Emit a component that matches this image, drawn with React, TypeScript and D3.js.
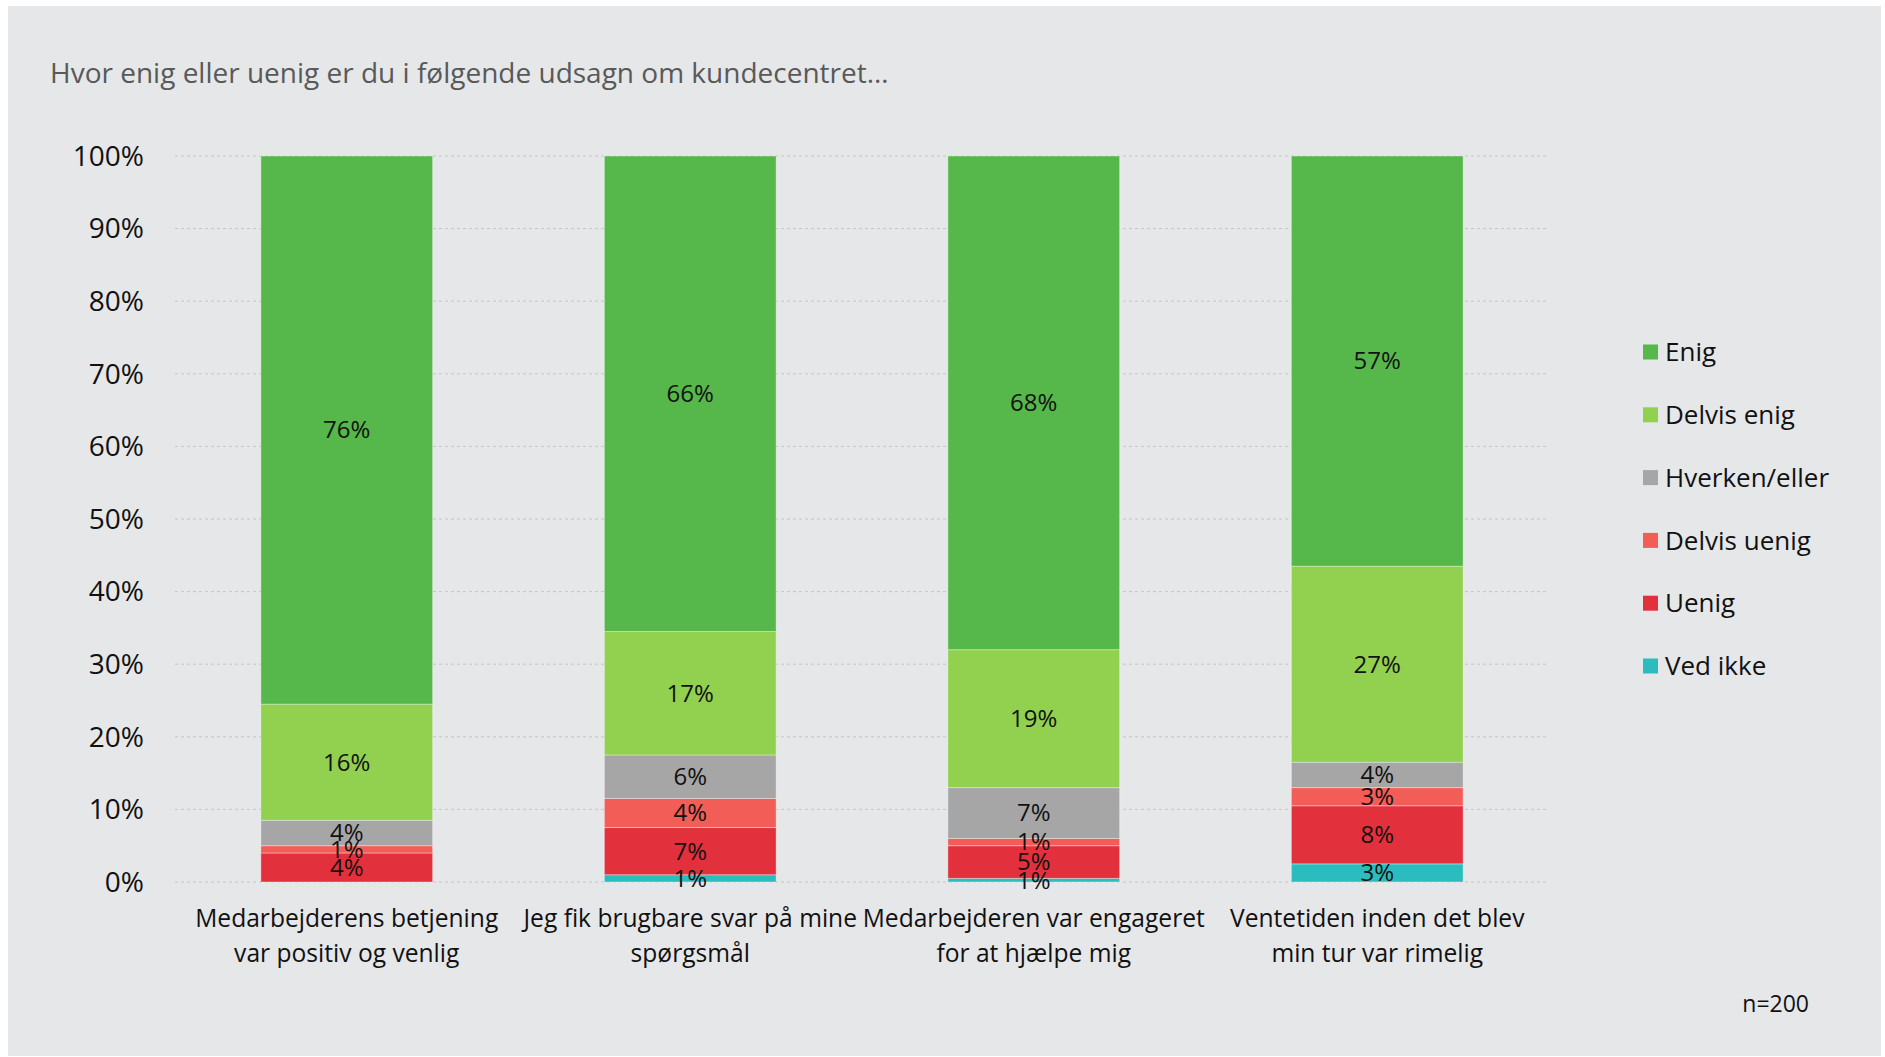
import React, { useEffect } from 'react';
import * as d3 from 'd3';

// Survey data (percent of respondents)
const title = 'Hvor enig eller uenig er du i følgende udsagn om kundecentret…';
const categories = [
  ['Medarbejderens betjening', 'var positiv og venlig'],
  ['Jeg fik brugbare svar på mine', 'spørgsmål'],
  ['Medarbejderen var engageret', 'for at hjælpe mig'],
  ['Ventetiden inden det blev', 'min tur var rimelig'],
];
const seriesNames = ['Ved ikke', 'Uenig', 'Delvis uenig', 'Hverken/eller', 'Delvis enig', 'Enig'];
const vedIkke = [0, 1, 0.5, 2.5];
const uenig = [4, 6.5, 4.5, 8];
const delvisUenig = [1, 4, 1, 2.5];
const hverken = [3.5, 6, 7, 3.5];
const delvisEnig = [16, 17, 19, 27];
const enig = [75.5, 65.5, 68, 56.5];
const colors = ['#2bbdbd', '#e3303d', '#f25e57', '#a6a6a6', '#92d050', '#56b84a'];
const yTicks = [0, 10, 20, 30, 40, 50, 60, 70, 80, 90, 100];
const legendOrder = ['Enig', 'Delvis enig', 'Hverken/eller', 'Delvis uenig', 'Uenig', 'Ved ikke'];
const note = 'n=200';

const W = 1885;
const H = 1057;
const FONT = '"Open Sans", sans-serif';

export default function App() {
  useEffect(() => {
    document.body.style.margin = '0';
  }, []);

  const margin = { top: 156, left: 175, right: W - 1549, bottom: H - 882 };
  const x = d3.scaleBand<number>()
    .domain(categories.map((_, i) => i))
    .range([margin.left, W - margin.right])
    .paddingInner(0.5)
    .paddingOuter(0.25);
  const y = d3.scaleLinear().domain([0, 100]).range([H - margin.bottom, margin.top]);

  const allSeries = [vedIkke, uenig, delvisUenig, hverken, delvisEnig, enig];
  const rows = categories.map((_, i) => {
    const r: any = { idx: i };
    seriesNames.forEach((s, k) => { r[s] = allSeries[k][i]; });
    return r;
  });
  const stacked = d3.stack().keys(seriesNames)(rows);

  return (
    <svg width={W} height={H} style={{ display: 'block', background: '#fff' }} fontFamily={FONT}>
      <rect x={8} y={6} width={1873} height={1050} fill="#e6e7e9" />
      <text x={50} y={83} fontSize={28} fill="#595959">{title}</text>

      {yTicks.map(t => (
        <g key={t}>
          <line x1={margin.left} x2={W - margin.right} y1={y(t)} y2={y(t)}
            stroke="#c4c5c7" strokeWidth={1} strokeDasharray="3,3" />
          <text x={144} y={y(t)} dy="0.35em" textAnchor="end" fontSize={28} fill="#111">{t}%</text>
        </g>
      ))}

      {stacked.map((layer, k) => (
        <g key={layer.key} fill={colors[k]}>
          {layer.map((d, i) => (d[1] - d[0] > 0 ?
            <rect key={i} x={x(i)} y={y(d[1])} width={x.bandwidth()} height={y(d[0]) - y(d[1])}
              stroke="rgba(255,255,255,0.35)" strokeWidth={1} /> : null))}
        </g>
      ))}

      {stacked.map(layer => (
        <g key={'l' + layer.key}>
          {layer.map((d, i) => (d[1] - d[0] > 0 ?
            <text key={i} x={x(i)! + x.bandwidth() / 2} y={y((d[0] + d[1]) / 2)} dy="0.35em"
              textAnchor="middle" fontSize={24} fill="#111">{Math.round(d[1] - d[0])}%</text> : null))}
        </g>
      ))}

      {categories.map((lines, i) => (
        <text key={i} x={x(i)! + x.bandwidth() / 2} textAnchor="middle" fontSize={24.6} fill="#111">
          {lines.map((l, j) => <tspan key={j} x={x(i)! + x.bandwidth() / 2} y={918 + j * 35} dy="0.35em">{l}</tspan>)}
        </text>
      ))}

      {legendOrder.map((name, j) => {
        const cy = 352 + j * 62.8;
        return (
          <g key={name}>
            <rect x={1643} y={cy - 7.5} width={15} height={15} fill={colors[seriesNames.indexOf(name)]} />
            <text x={1665} y={cy} dy="0.35em" fontSize={26} fill="#111">{name}</text>
          </g>
        );
      })}

      <text x={1809} y={1004} dy="0.35em" textAnchor="end" fontSize={23} fill="#111">{note}</text>
    </svg>
  );
}
